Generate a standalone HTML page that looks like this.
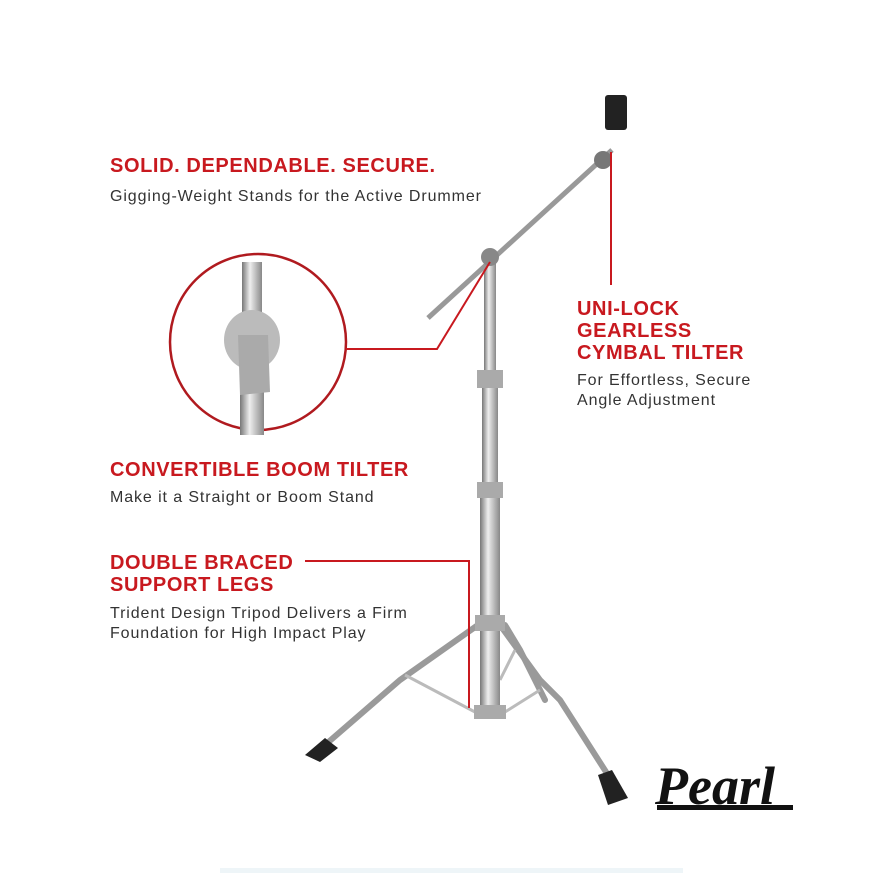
<!DOCTYPE html>
<html><head><style>
body{margin:0;width:872px;height:873px;background:#fff;position:relative;overflow:hidden;font-family:"Liberation Sans",sans-serif}
.h{position:absolute;color:#c8191f;font-weight:bold;font-size:20px;line-height:22px;letter-spacing:0.6px}
.s{position:absolute;color:#333;font-size:16px;line-height:20px;letter-spacing:0.9px}
</style></head><body>
<div class="h" style="left:110px;top:155px">SOLID. DEPENDABLE. SECURE.</div>
<div class="s" style="left:110px;top:187px">Gigging-Weight Stands for the Active Drummer</div>
<div class="h" style="left:577px;top:298px">UNI-LOCK<br>GEARLESS<br>CYMBAL TILTER</div>
<div class="s" style="left:577px;top:371px">For Effortless, Secure<br>Angle Adjustment</div>
<div class="h" style="left:110px;top:459px">CONVERTIBLE BOOM TILTER</div>
<div class="s" style="left:110px;top:488px">Make it a Straight or Boom Stand</div>
<div class="h" style="left:110px;top:552px">DOUBLE BRACED<br>SUPPORT LEGS</div>
<div class="s" style="left:110px;top:604px">Trident Design Tripod Delivers a Firm<br>Foundation for High Impact Play</div>
<svg width="872" height="873" style="position:absolute;left:0;top:0">
<defs><linearGradient id="m" x1="0" x2="1"><stop offset="0" stop-color="#777"/><stop offset=".4" stop-color="#eee"/><stop offset="1" stop-color="#888"/></linearGradient></defs>
<g stroke="#9a9a9a" stroke-width="6" fill="none" stroke-linecap="round">
<path d="M478 625 L400 680 L325 745"/>
<path d="M500 625 L540 680 L560 700 L608 775"/>
<path d="M505 625 L520 650 L545 700"/>
</g>
<g stroke="#bbb" stroke-width="3" fill="none">
<path d="M405 675 L475 712"/><path d="M505 712 L540 690"/><path d="M500 680 L515 650"/>
</g>
<rect x="484" y="262" width="12" height="120" fill="url(#m)"/>
<rect x="482" y="382" width="16" height="110" fill="url(#m)"/>
<rect x="480" y="492" width="20" height="225" fill="url(#m)"/>
<rect x="477" y="370" width="26" height="18" fill="#aaa"/>
<rect x="477" y="482" width="26" height="16" fill="#aaa"/>
<rect x="475" y="615" width="30" height="16" fill="#aaa"/>
<rect x="474" y="705" width="32" height="14" fill="#aaa"/>
<line x1="428" y1="318" x2="612" y2="150" stroke="#999" stroke-width="5"/>
<circle cx="490" cy="257" r="9" fill="#888"/>
<circle cx="603" cy="160" r="9" fill="#777"/>
<rect x="605" y="95" width="22" height="35" rx="3" fill="#222"/>
<path d="M305 755 L325 738 L338 748 L320 762 Z" fill="#222"/>
<path d="M598 775 L612 770 L628 798 L608 805 Z" fill="#222"/>
<circle cx="258" cy="342" r="88" fill="#fff" stroke="#b01a1f" stroke-width="2.5"/>
<rect x="242" y="262" width="20" height="60" fill="url(#m)"/>
<rect x="240" y="385" width="24" height="50" fill="url(#m)"/>
<ellipse cx="252" cy="340" rx="28" ry="30" fill="#bbb"/>
<path d="M238 335 L268 335 L270 392 L240 395 Z" fill="#aaa"/>
<g stroke="#c8191f" stroke-width="2" fill="none">
<path d="M346 349 L437 349 L490 262"/>
<path d="M611 152 L611 285"/>
<path d="M305 561 L469 561 L469 708"/>
</g>
<text x="655" y="804" font-family="Liberation Serif" font-style="italic" font-weight="bold" font-size="54" fill="#111">Pearl</text>
<rect x="657" y="805" width="136" height="5" fill="#111"/>
<rect x="220" y="868" width="463" height="5" fill="#eef5f8"/>
</svg>
</body></html>
